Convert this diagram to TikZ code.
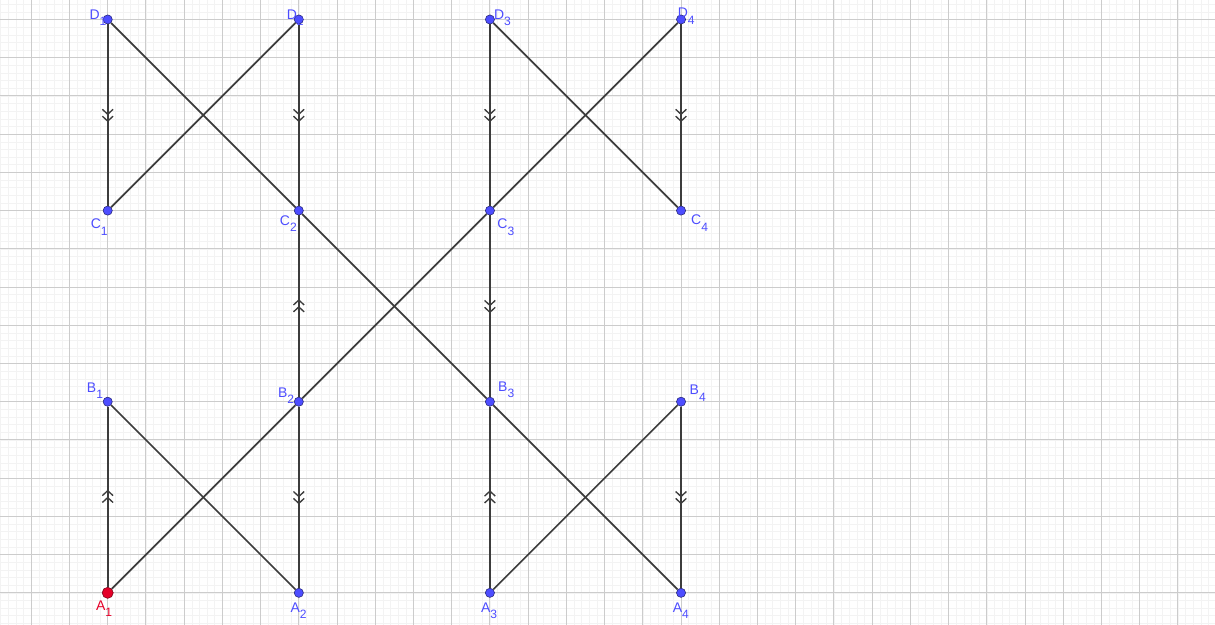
\documentclass[tikz,border=0pt]{standalone}
\usepackage{fontspec}
\setmainfont{Liberation Sans}
\usetikzlibrary{decorations.markings}

\definecolor{ptblue}{RGB}{77,77,255}
\definecolor{ptred}{RGB}{228,0,40}
\definecolor{gridmajor}{RGB}{204,204,204}
\definecolor{gridminor}{RGB}{243,243,243}
\definecolor{segcol}{RGB}{60,60,60}

\newcommand{\ptname}[2]{#1\raisebox{-4.8pt}{\fontsize{9}{10}\selectfont #2}}

\begin{document}
\begin{tikzpicture}[
    seg/.style={line width=1.3pt, segcol},
    dblmark/.style={postaction={decorate, decoration={markings,
        mark=at position 0.5 with {
            \draw[line width=1pt, segcol] (-0.15,0.14) -- (-0.02,0) -- (-0.15,-0.14);
            \draw[line width=1pt, segcol] (0.03,0.14) -- (0.16,0) -- (0.03,-0.14);}}}},
    bluept/.style={circle, fill=ptblue, draw=ptblue!45!black, line width=0.4pt,
        inner sep=0pt, minimum size=0.24cm},
    redpt/.style={circle, fill=ptred, draw=ptred!50!black, line width=0.4pt,
        inner sep=0pt, minimum size=0.29cm},
    lbl/.style={text=ptblue, inner sep=0pt, anchor=base west,
        font=\fontsize{10.4}{12}\selectfont}
]
    \useasboundingbox (-2.818,-0.819) rectangle (28.97,15.51);
    \clip (-2.818,-0.819) rectangle (28.97,15.51);

    % Grid
    \draw[gridminor, line width=0.4pt] (-3,-1) grid[step=0.2] (29,16);
    \draw[gridmajor, line width=0.7pt] (-3,-1) grid[step=1] (29,16);

    % Points
    \node[redpt]  (A1) at (0,0) {};
    \node[bluept] (A2) at (5,0) {};
    \node[bluept] (A3) at (10,0) {};
    \node[bluept] (A4) at (15,0) {};
    \node[bluept] (B1) at (0,5) {};
    \node[bluept] (B2) at (5,5) {};
    \node[bluept] (B3) at (10,5) {};
    \node[bluept] (B4) at (15,5) {};
    \node[bluept] (C1) at (0,10) {};
    \node[bluept] (C2) at (5,10) {};
    \node[bluept] (C3) at (10,10) {};
    \node[bluept] (C4) at (15,10) {};
    \node[bluept] (D1) at (0,15) {};
    \node[bluept] (D2) at (5,15) {};
    \node[bluept] (D3) at (10,15) {};
    \node[bluept] (D4) at (15,15) {};

    % Parallel sides
    \draw[seg, dblmark] (A1) -- (B1);
    \draw[seg, dblmark] (D1) -- (C1);
    \draw[seg, dblmark] (B2) -- (A2);
    \draw[seg, dblmark] (B2) -- (C2);
    \draw[seg, dblmark] (D2) -- (C2);
    \draw[seg, dblmark] (A3) -- (B3);
    \draw[seg, dblmark] (C3) -- (B3);
    \draw[seg, dblmark] (D3) -- (C3);
    \draw[seg, dblmark] (B4) -- (A4);
    \draw[seg, dblmark] (D4) -- (C4);

    % Diagonals
    \draw[seg] (A1) -- (B2) -- (C3) -- (D4);
    \draw[seg] (D1) -- (C2) -- (B3) -- (A4);
    \draw[seg] (B1) -- (A2);
    \draw[seg] (C1) -- (D2);
    \draw[seg] (A3) -- (B4);
    \draw[seg] (D3) -- (C4);

    % Labels
    \node[lbl, text=ptred] (lA1) at (-0.31,-0.45) {\ptname{A}{1}};
    \node[lbl] (lA2) at (4.78,-0.51) {\ptname{A}{2}};
    \node[lbl] (lA3) at (9.76,-0.51) {\ptname{A}{3}};
    \node[lbl] (lA4) at (14.78,-0.51) {\ptname{A}{4}};
    \node[lbl] (lB1) at (-0.55,5.24) {\ptname{B}{1}};
    \node[lbl] (lB2) at (4.45,5.12) {\ptname{B}{2}};
    \node[lbl] (lB3) at (10.21,5.27) {\ptname{B}{3}};
    \node[lbl] (lB4) at (15.22,5.18) {\ptname{B}{4}};
    \node[lbl] (lC1) at (-0.45,9.52) {\ptname{C}{1}};
    \node[lbl] (lC2) at (4.50,9.61) {\ptname{C}{2}};
    \node[lbl] (lC3) at (10.19,9.53) {\ptname{C}{3}};
    \node[lbl] (lC4) at (15.26,9.63) {\ptname{C}{4}};
    \node[lbl] (lD1) at (-0.48,15) {\ptname{D}{1}};
    \node[lbl] (lD2) at (4.68,15) {\ptname{D}{2}};
    \node[lbl] (lD3) at (10.10,15) {\ptname{D}{3}};
    \node[lbl] (lD4) at (14.91,15.05) {\ptname{D}{4}};
\end{tikzpicture}
\end{document}
